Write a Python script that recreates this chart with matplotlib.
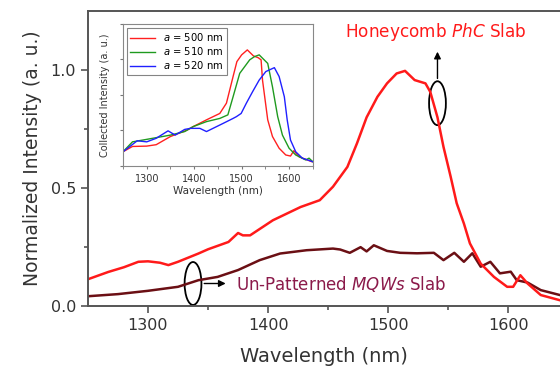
import matplotlib
matplotlib.use("Agg")
import matplotlib.pyplot as plt
from matplotlib.patches import Ellipse

# main spectra
wl_phc = [1250, 1267, 1280, 1292, 1300, 1310, 1317, 1325, 1342, 1350, 1367, 1375, 1379, 1385,
          1404, 1427, 1443, 1454, 1466, 1474, 1482, 1491, 1499, 1507, 1514, 1522, 1531,
          1535, 1541, 1546, 1552, 1557, 1563, 1568, 1577, 1588, 1599, 1604, 1610, 1616,
          1627, 1643]
int_phc = [0.114, 0.145, 0.165, 0.188, 0.190, 0.184, 0.174, 0.188, 0.223, 0.241, 0.272, 0.31, 0.30, 0.30,
           0.364, 0.42, 0.449, 0.506, 0.59, 0.69, 0.80, 0.887, 0.944, 0.986, 0.997, 0.958, 0.944,
           0.908, 0.80, 0.675, 0.548, 0.436, 0.35, 0.266, 0.18, 0.124, 0.082, 0.082, 0.131, 0.096,
           0.047, 0.025]

wl_mqw = [1250, 1275, 1300, 1325, 1342, 1358, 1375, 1393, 1410, 1432, 1454, 1460, 1468,
          1477, 1482, 1488, 1499, 1510, 1524, 1538, 1546, 1555, 1563, 1570, 1577, 1585,
          1593, 1602, 1607, 1616, 1627, 1643]
int_mqw = [0.042, 0.051, 0.065, 0.082, 0.11, 0.124, 0.153, 0.195, 0.223, 0.237, 0.244, 0.24, 0.226,
           0.25, 0.232, 0.258, 0.234, 0.226, 0.224, 0.226, 0.195, 0.226, 0.188, 0.224, 0.167, 0.188,
           0.139, 0.146, 0.11, 0.1, 0.068, 0.047]

# inset spectra
wl_in_500 = [1250, 1270, 1300, 1320, 1350, 1385, 1398, 1426, 1454, 1468, 1482, 1490, 1500,
             1512, 1525, 1535, 1541, 1544, 1555, 1565, 1579, 1593, 1603, 1610, 1621, 1648]
int_in_500 = [0.40, 0.55, 0.56, 0.60, 0.83, 1.01, 1.11, 1.30, 1.48, 1.77, 2.52, 2.94, 3.13,
              3.27, 3.10, 3.05, 2.99, 2.42, 1.30, 0.83, 0.50, 0.31, 0.28, 0.43, 0.26, 0.12]
wl_in_510 = [1250, 1270, 1300, 1350, 1380, 1398, 1426, 1454, 1471, 1482, 1496, 1517, 1527,
             1537, 1555, 1565, 1576, 1586, 1600, 1614, 1635, 1642, 1650]
int_in_510 = [0.40, 0.68, 0.75, 0.87, 0.97, 1.11, 1.25, 1.34, 1.44, 1.95, 2.61, 2.99, 3.08,
              3.13, 2.89, 2.23, 1.39, 0.87, 0.50, 0.31, 0.17, 0.22, 0.12]
wl_in_520 = [1250, 1280, 1300, 1320, 1345, 1360, 1380, 1392, 1412, 1426, 1461, 1482, 1489,
             1499, 1510, 1523, 1537, 1551, 1569, 1579, 1590, 1596, 1603, 1614, 1628, 1650]
int_in_520 = [0.40, 0.71, 0.68, 0.78, 0.99, 0.87, 1.03, 1.06, 1.06, 0.97, 1.20, 1.34, 1.39,
              1.48, 1.77, 2.09, 2.42, 2.66, 2.77, 2.52, 1.95, 1.30, 0.73, 0.40, 0.22, 0.12]

fig = plt.figure(figsize=(5.6, 3.72), dpi=100)
ax = fig.add_axes([0.157, 0.177, 0.843, 0.793])

ax.plot(wl_mqw, int_mqw, color="#6b0f14", lw=1.8)
ax.plot(wl_phc, int_phc, color="#ff1a1a", lw=1.8)

ax.set_xlim(1250, 1643)
ax.set_ylim(0, 1.25)
ax.set_xticks([1300, 1400, 1500, 1600])
ax.set_xticks([1350, 1450, 1550], minor=True)
ax.set_yticks([0.0, 0.5, 1.0])
ax.set_yticks([0.25, 0.75], minor=True)
ax.tick_params(which="both", direction="out", colors="#555555", labelcolor="#333333",
               labelsize=11.5, width=1.2)
ax.tick_params(which="major", length=5)
ax.tick_params(which="minor", length=3)
for s in ["left", "bottom", "top"]:
    ax.spines[s].set_color("#555555")
    ax.spines[s].set_linewidth(1.4)
ax.spines["right"].set_visible(False)
ax.set_xlabel("Wavelength (nm)", fontsize=14, color="#333333", labelpad=10)
ax.set_ylabel("Normalized Intensity (a. u.)", fontsize=13.5, color="#333333", labelpad=6)

# annotations
ax.text(1540, 1.16, "Honeycomb $\\it{PhC}$ Slab", color="#ff1a1a", fontsize=12.2,
        ha="center", va="center")
ax.add_patch(Ellipse((1541, 0.86), 14, 0.186, fill=False, ec="black", lw=1.3))
ax.annotate("", xy=(1541, 1.09), xytext=(1541, 0.953),
            arrowprops=dict(arrowstyle="-|>", color="black", lw=1, mutation_scale=10))
ax.add_patch(Ellipse((1337.5, 0.096), 14, 0.182, fill=False, ec="black", lw=1.3))
ax.annotate("", xy=(1367, 0.096), xytext=(1344.5, 0.096),
            arrowprops=dict(arrowstyle="-|>", color="black", lw=1, mutation_scale=10))
ax.text(1373, 0.096, "Un-Patterned $\\it{MQWs}$ Slab", color="#8b1a4a", fontsize=12,
        ha="left", va="center")

# inset
ins = fig.add_axes([0.2196, 0.5538, 0.339, 0.3817])
ins.plot(wl_in_500, int_in_500, color="#ff2020", lw=1, label="$\\it{a}$ = 500 nm")
ins.plot(wl_in_510, int_in_510, color="#1f9a1f", lw=1, label="$\\it{a}$ = 510 nm")
ins.plot(wl_in_520, int_in_520, color="#2020ff", lw=1, label="$\\it{a}$ = 520 nm")
ins.set_xlim(1250, 1650)
ins.set_ylim(0, 4)
ins.set_xticks([1300, 1400, 1500, 1600])
ins.set_xticks([1250, 1350, 1450, 1550, 1650], minor=True)
ins.set_yticks([0, 1, 2, 3, 4])
ins.set_yticklabels([])
ins.tick_params(which="both", direction="out", colors="#777777", labelcolor="#333333",
                labelsize=7, length=2.5)
for s in ins.spines.values():
    s.set_color("#888888")
ins.set_xlabel("Wavelength (nm)", fontsize=7.5, color="#333333", labelpad=1)
ins.set_ylabel("Collected Intensity (a. u.)", fontsize=7, color="#333333", labelpad=3)
leg = ins.legend(loc="upper left", fontsize=7.2, frameon=True, fancybox=False,
                 handlelength=2.5, borderpad=0.35, labelspacing=0.2, borderaxespad=0.4)
leg.get_frame().set_edgecolor("#666666")
leg.get_frame().set_linewidth(0.8)

fig.savefig("out.png", dpi=100)
